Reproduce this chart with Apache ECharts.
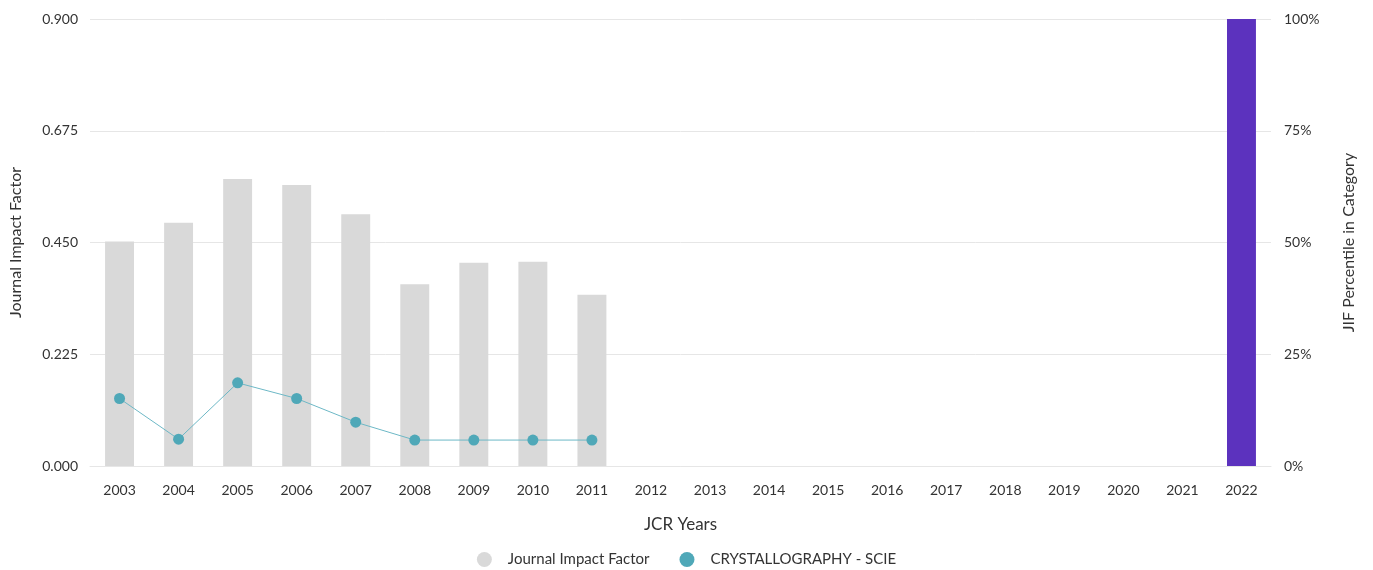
<!DOCTYPE html>
<html>
<head>
<meta charset="utf-8">
<script src="https://cdn.jsdelivr.net/npm/echarts@6/dist/echarts.min.js"></script>
<style>
html,body{margin:0;padding:0;background:#fff;}
#chart{width:1373px;height:570px;}
</style>
</head>
<body>
<div id="chart"></div>
<script>
var years = ['2003','2004','2005','2006','2007','2008','2009','2010','2011','2012','2013','2014','2015','2016','2017','2018','2019','2020','2021','2022'];
var jifValues = [0.452, 0.490, 0.578, 0.566, 0.507, 0.366, 0.409, 0.411, 0.345, null, null, null, null, null, null, null, null, null, null, 0.9];
var percentileValues = [15.1, 6.0, 18.6, 15.1, 9.8, 5.8, 5.8, 5.8, 5.8, null, null, null, null, null, null, null, null, null, null, null];
var leftTicks = ['0.000','0.225','0.450','0.675','0.900'];
var rightTicks = ['0%','25%','50%','75%','100%'];

var FONT = 'Lato, "Noto Sans", sans-serif';
var chart = echarts.init(document.getElementById('chart'));
var barData = jifValues.map(function(v, i){
  if (i === years.length - 1) return {value: v, itemStyle: {color: '#5c32be'}};
  return v;
});
chart.setOption({
  animation: false,
  grid: {left: 90, right: 102, top: 19, bottom: 104},
  legend: {
    top: 547, left: 'center',
    itemWidth: 15, itemHeight: 15, itemGap: 30,
    textStyle: {fontFamily: FONT, fontSize: 15, color: '#333', padding: [0,0,0,11]},
    data: [
      {name: 'Journal Impact Factor', icon: 'circle', itemStyle: {color: '#d9d9d9'}},
      {name: 'CRYSTALLOGRAPHY - SCIE', icon: 'circle', itemStyle: {color: '#4fa8b8'}}
    ]
  },
  xAxis: {
    type: 'category', data: years,
    name: 'JCR Years', nameLocation: 'middle', nameGap: 50,
    nameTextStyle: {fontFamily: FONT, fontSize: 17, color: '#333'},
    axisTick: {show: false},
    axisLine: {lineStyle: {color: '#e6e6e6'}},
    axisLabel: {fontFamily: FONT, fontSize: 14, color: '#333', margin: 17}
  },
  yAxis: [
    {
      type: 'value', min: 0, max: 0.9, interval: 0.225,
      name: 'Journal Impact Factor', nameLocation: 'middle', nameGap: 66,
      nameTextStyle: {fontFamily: FONT, fontSize: 16, color: '#333'},
      axisLabel: {fontFamily: FONT, fontSize: 14, color: '#333', margin: 12,
        formatter: function(v){ return leftTicks[Math.round(v/0.225)]; }},
      splitLine: {lineStyle: {color: '#e6e6e6'}},
      axisLine: {show: false}, axisTick: {show: false}
    },
    {
      type: 'value', min: 0, max: 100, interval: 25,
      name: 'JIF Percentile in Category', nameLocation: 'middle', nameGap: 70,
      nameTextStyle: {fontFamily: FONT, fontSize: 16, color: '#333'},
      axisLabel: {fontFamily: FONT, fontSize: 14, color: '#333', margin: 13,
        formatter: function(v){ return rightTicks[Math.round(v/25)]; }},
      splitLine: {show: false},
      axisLine: {show: false}, axisTick: {show: false}
    }
  ],
  series: [
    {
      name: 'Journal Impact Factor', type: 'bar', yAxisIndex: 0,
      data: barData, barWidth: '49%',
      itemStyle: {color: '#d9d9d9'}
    },
    {
      name: 'CRYSTALLOGRAPHY - SCIE', type: 'line', yAxisIndex: 1,
      data: percentileValues, symbol: 'circle', symbolSize: 11,
      lineStyle: {color: '#6db8c6', width: 1},
      itemStyle: {color: '#4fa8b8'}
    }
  ]
});
</script>
</body>
</html>
